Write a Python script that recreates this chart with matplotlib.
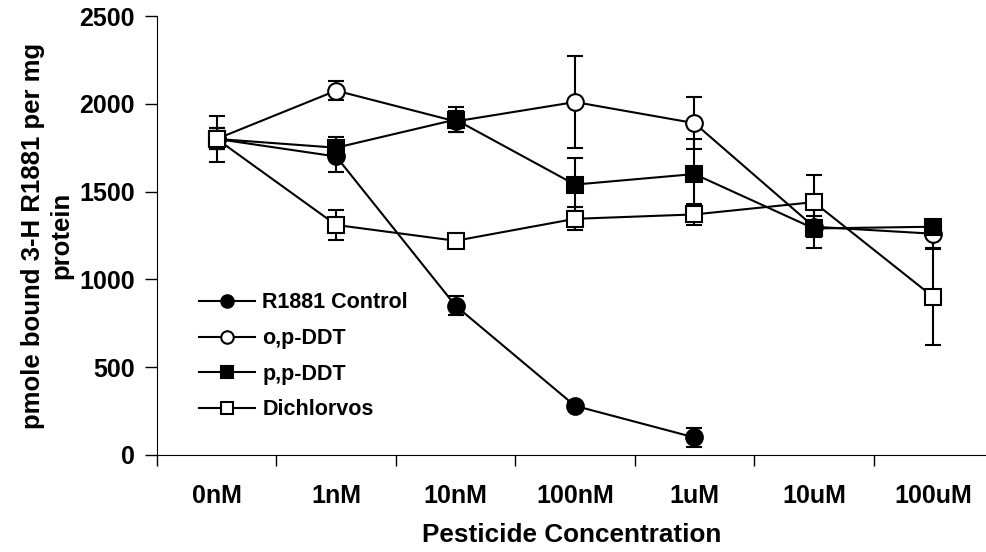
import matplotlib
matplotlib.use("Agg")
import matplotlib.pyplot as plt
import numpy as np

plt.rcParams['font.family'] = ['Liberation Sans', 'DejaVu Sans']
plt.rcParams['font.weight'] = 'bold'

conc = ["0nM", "1nM", "10nM", "100nM", "1uM", "10uM", "100uM"]

r1881 = [1800, 1700, 850, 280, 100]
r1881_err = [60, 90, 55, 20, 55]
op_ddt = [1800, 2075, 1900, 2010, 1890, 1300, 1260]
op_ddt_err = [60, 55, 60, 260, 150, 60, 80]
pp_ddt = [1800, 1750, 1910, 1540, 1600, 1290, 1300]
pp_ddt_err = [60, 60, 70, 150, 200, 110, 40]
dichlorvos = [1800, 1310, 1220, 1345, 1370, 1440, 900]
dichlorvos_err = [130, 85, 30, 65, 60, 155, 274]

fig = plt.figure(figsize=(9.87, 5.52), dpi=100)
ax = fig.add_axes([157/987, 97/552, 830/987, 439/552])

x = np.arange(len(conc))
series = [
  (r1881, r1881_err, "o", "k", "R1881 Control"),
  (op_ddt, op_ddt_err, "o", "w", "o,p-DDT"),
  (pp_ddt, pp_ddt_err, "s", "k", "p,p-DDT"),
  (dichlorvos, dichlorvos_err, "s", "w", "Dichlorvos"),
]
for vals, err, m, fc, lab in series:
  xs = x[:len(vals)]
  ax.errorbar(xs, vals, yerr=err, fmt="none", ecolor="k", elinewidth=1.5,
              capsize=6, capthick=1.5, zorder=2)
  ax.plot(xs, vals, color="k", lw=1.5, marker=m, ms=12 if m == "o" else 11.5,
          mfc=fc, mec="k", mew=1.5, label=lab, zorder=3)

ax.set_xlim(-0.5, 6.45)
ax.set_ylim(0, 2500)
ax.set_yticks(np.arange(0, 2501, 500))
ax.set_xticks(x)
ax.set_xticklabels(conc)
ax.set_xticks(np.arange(-0.5, 6, 1), minor=True)
ax.tick_params(axis="x", which="major", length=0, pad=21, labelsize=18)
ax.tick_params(axis="x", which="minor", length=8, width=1)
ax.tick_params(axis="y", length=9, width=1, pad=7, labelsize=18)
for s in ["top", "right"]:
  ax.spines[s].set_visible(False)

ax.set_xlabel("Pesticide Concentration", fontsize=18.8, fontweight="bold", labelpad=11)
ax.set_ylabel("pmole bound 3-H R1881 per mg\nprotein", fontsize=18.5,
              fontweight="bold", labelpad=4, linespacing=1.25)

leg = ax.legend(loc="upper left", bbox_to_anchor=(0.04, 0.39), frameon=False,
                fontsize=15.5, handlelength=2.6, handletextpad=0.35,
                labelspacing=0.68, markerscale=0.75, borderaxespad=0)

fig.savefig("out.png", dpi=100)
